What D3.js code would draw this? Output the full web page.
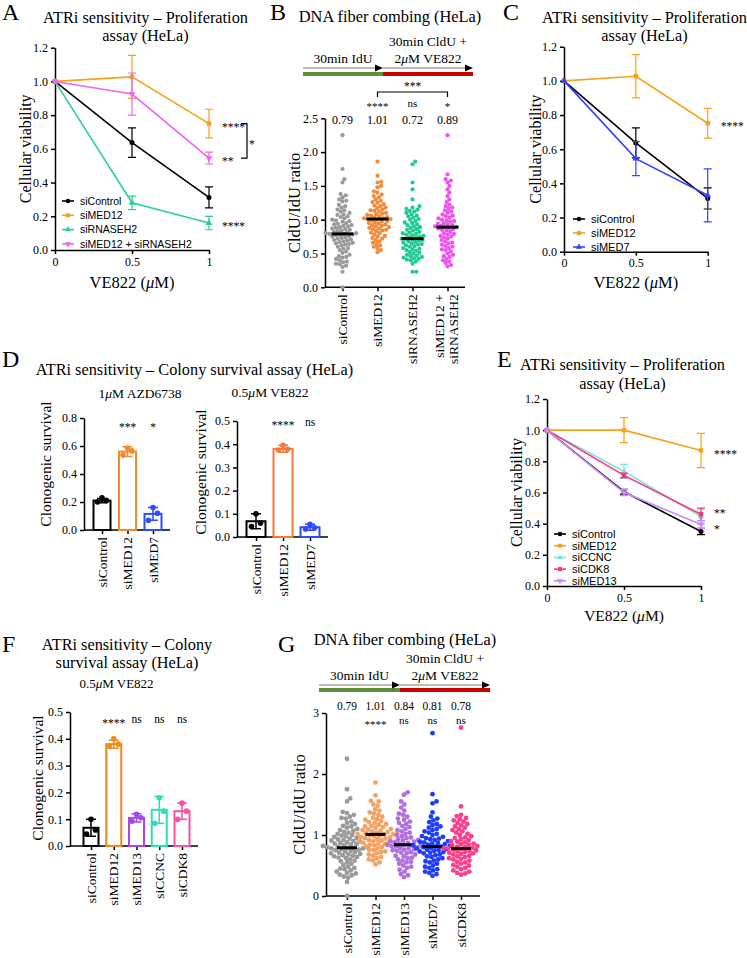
<!DOCTYPE html>
<html><head><meta charset="utf-8">
<script src="https://cdn.jsdelivr.net/npm/d3@7"></script>
<style>body{margin:0;background:#fff;}</style>
</head><body>
<svg id="fig" width="747" height="958" xmlns="http://www.w3.org/2000/svg"></svg>
<script>
// ---------------- DATA ----------------
const doses = [0, 0.5, 1];
const doseTicks = [0, 0.5, 1];
const viabTicks = [0, 0.2, 0.4, 0.6, 0.8, 1.0, 1.2];

// Panel A
const A_series = ["siControl", "siMED12", "siRNASEH2", "siMED12 + siRNASEH2"];
const A_mean = [[1, 0.637, 0.312], [1, 1.027, 0.75], [1, 0.28, 0.16], [1, 0.925, 0.545]];
const A_sd = [[0, 0.088, 0.062], [0, 0.127, 0.085], [0, 0.04, 0.04], [0, 0.125, 0.035]];
const A_colors = ["#000000", "#F9A11B", "#2ED28E", "#EE66EE"];
const A_shapes = ["circle", "square", "triangle", "triangleDown"];
const A_sig = ["", "****", "****", "**"];

// Panel C
const C_series = ["siControl", "siMED12", "siMED7"];
const C_mean = [[1, 0.637, 0.312], [1, 1.027, 0.752], [1, 0.545, 0.33]];
const C_sd = [[0, 0.088, 0.062], [0, 0.127, 0.087], [0, 0.10, 0.155]];
const C_colors = ["#000000", "#F9A11B", "#3344FF"];
const C_shapes = ["circle", "square", "triangle"];
const C_sig = ["", "****", ""];

// Panel E
const E_series = ["siControl", "siMED12", "siCCNC", "siCDK8", "siMED13"];
const E_mean = [[1, 0.605, 0.35], [1, 1.0, 0.87], [1, 0.735, 0.445], [1, 0.71, 0.46], [1, 0.60, 0.395]];
const E_sd = [[0, 0.015, 0.02], [0, 0.08, 0.11], [0, 0.045, 0.05], [0, 0.015, 0.04], [0, 0.02, 0.025]];
const E_colors = ["#000000", "#F9A11B", "#7FE3E3", "#FF3377", "#CC88FF"];
const E_shapes = ["circle", "square", "triangle", "square", "triangleDown"];
const E_sig = ["", "****", "", "**", "*"];

// DNA fiber ratios
const fiber_siControl = [2.25,1.75,1.60,1.55,1.38,1.36,1.33,1.30,1.28,1.27,1.22,1.20,1.18,1.15,1.14,1.12,1.10,1.08,1.07,1.05,1.04,1.02,1.00,0.99,0.98,0.97,0.95,0.94,0.93,0.92,0.91,0.90,0.89,0.88,0.87,0.86,0.85,0.84,0.83,0.82,0.81,0.80,0.80,0.79,0.79,0.78,0.78,0.77,0.76,0.75,0.74,0.73,0.72,0.71,0.70,0.69,0.68,0.67,0.66,0.65,0.64,0.63,0.62,0.60,0.58,0.57,0.55,0.53,0.51,0.48,0.46,0.45,0.44,0.42,0.40,0.38,0.37,0.35,0.34,0.32,0.30,0.23,0.00];
const fiber_siMED12 = [1.86,1.65,1.56,1.55,1.50,1.48,1.42,1.40,1.37,1.35,1.33,1.30,1.28,1.26,1.25,1.23,1.21,1.20,1.18,1.17,1.15,1.14,1.13,1.12,1.10,1.09,1.08,1.07,1.06,1.05,1.04,1.03,1.02,1.02,1.01,1.01,1.00,0.99,0.98,0.97,0.96,0.95,0.94,0.93,0.92,0.91,0.90,0.89,0.88,0.87,0.86,0.85,0.84,0.83,0.81,0.80,0.78,0.76,0.75,0.73,0.72,0.70,0.68,0.66,0.64,0.62,0.60,0.58,0.55,0.52];
const fiber_siRNASEH2 = [1.86,1.82,1.55,1.45,1.30,1.20,1.18,1.16,1.15,1.13,1.12,1.10,1.08,1.06,1.05,1.03,1.01,1.00,0.98,0.96,0.95,0.93,0.92,0.90,0.89,0.88,0.86,0.85,0.84,0.82,0.81,0.80,0.79,0.78,0.77,0.76,0.75,0.74,0.73,0.72,0.72,0.71,0.70,0.69,0.68,0.67,0.66,0.65,0.64,0.63,0.62,0.61,0.60,0.58,0.57,0.56,0.55,0.54,0.52,0.51,0.50,0.48,0.47,0.46,0.45,0.44,0.43,0.42,0.41,0.40,0.38,0.35,0.23,0.23];
const fiber_combo = [2.25,1.67,1.60,1.58,1.55,1.50,1.45,1.40,1.35,1.30,1.26,1.22,1.20,1.18,1.16,1.14,1.12,1.10,1.08,1.06,1.05,1.03,1.02,1.00,0.99,0.98,0.97,0.95,0.94,0.93,0.92,0.91,0.90,0.89,0.89,0.88,0.87,0.86,0.85,0.84,0.82,0.80,0.79,0.78,0.76,0.75,0.74,0.72,0.70,0.68,0.66,0.65,0.63,0.61,0.60,0.58,0.56,0.55,0.53,0.50,0.48,0.46,0.45,0.42,0.40,0.38,0.36,0.33,0.31];
const fiber_siMED13 = [1.70,1.66,1.55,1.50,1.45,1.40,1.35,1.33,1.30,1.27,1.25,1.22,1.20,1.18,1.15,1.13,1.10,1.08,1.06,1.04,1.02,1.00,0.98,0.96,0.95,0.93,0.92,0.91,0.90,0.89,0.88,0.87,0.86,0.85,0.84,0.84,0.83,0.82,0.81,0.80,0.79,0.78,0.77,0.76,0.75,0.74,0.72,0.71,0.70,0.68,0.66,0.65,0.63,0.62,0.60,0.58,0.56,0.55,0.53,0.50,0.48,0.46,0.43,0.40,0.36,0.34,0.31];
const fiber_siMED7 = [2.67,1.67,1.55,1.52,1.37,1.30,1.27,1.24,1.21,1.18,1.16,1.14,1.12,1.10,1.08,1.06,1.04,1.02,1.00,0.98,0.97,0.95,0.94,0.93,0.92,0.90,0.89,0.88,0.87,0.86,0.85,0.84,0.83,0.82,0.81,0.81,0.80,0.79,0.78,0.77,0.76,0.75,0.74,0.73,0.72,0.71,0.70,0.68,0.67,0.65,0.64,0.62,0.60,0.58,0.57,0.55,0.53,0.50,0.48,0.46,0.44,0.42,0.40,0.38,0.36,0.33];
const fiber_siCDK8 = [2.76,1.47,1.33,1.31,1.28,1.26,1.24,1.22,1.20,1.18,1.16,1.14,1.12,1.10,1.08,1.06,1.04,1.02,1.00,0.98,0.96,0.95,0.93,0.92,0.90,0.89,0.88,0.86,0.85,0.84,0.83,0.82,0.81,0.80,0.79,0.78,0.78,0.77,0.76,0.75,0.74,0.73,0.72,0.71,0.70,0.69,0.68,0.66,0.65,0.64,0.62,0.61,0.60,0.58,0.56,0.55,0.53,0.51,0.50,0.48,0.46,0.44,0.42,0.40,0.38,0.37,0.35];

// Panel B
const B_cats = ["siControl", "siMED12", "siRNASEH2", "siMED12 +|siRNASEH2"];
const B_values = [fiber_siControl, fiber_siMED12, fiber_siRNASEH2, fiber_combo];
const B_medians = ["0.79", "1.01", "0.72", "0.89"];
const B_medianVals = [0.79, 1.01, 0.72, 0.89];
const B_sig = ["", "****", "ns", "*"];
const B_colors = ["#9A9A9A", "#F28A3A", "#1ECC92", "#F050F0"];
const B_yticks = [0, 0.5, 1.0, 1.5, 2.0, 2.5];

// Panel G
const G_cats = ["siControl", "siMED12", "siMED13", "siMED7", "siCDK8"];
const G_values = [fiber_siControl, fiber_siMED12, fiber_siMED13, fiber_siMED7, fiber_siCDK8];
const G_medians = ["0.79", "1.01", "0.84", "0.81", "0.78"];
const G_medianVals = [0.79, 1.01, 0.84, 0.81, 0.78];
const G_sig = ["", "****", "ns", "ns", "ns"];
const G_colors = ["#9A9A9A", "#F4A262", "#B06FE0", "#1F3BFF", "#FF3D8B"];
const G_yticks = [0, 1, 2, 3];

// Panel D (left: 1uM AZD6738)
const D1_cats = ["siControl", "siMED12", "siMED7"];
const D1_mean = [0.21, 0.56, 0.115];
const D1_sd = [0.015, 0.035, 0.045];
const D1_pts = [[0.23, 0.20, 0.21], [0.585, 0.535, 0.565], [0.16, 0.07, 0.12]];
const D1_sig = ["", "***", "*"];
const D1_colors = ["#000000", "#F28C28", "#2E4BFF"];
const D1_yticks = [0, 0.2, 0.4, 0.6, 0.8];
// Panel D (right: 0.5uM VE822)
const D2_cats = ["siControl", "siMED12", "siMED7"];
const D2_mean = [0.068, 0.38, 0.042];
const D2_sd = [0.032, 0.015, 0.013];
const D2_pts = [[0.10, 0.045, 0.06], [0.395, 0.375, 0.378], [0.055, 0.035, 0.04]];
const D2_sig = ["", "****", "ns"];
const D2_colors = ["#000000", "#F5793A", "#2E4BFF"];
const D2_yticks = [0, 0.1, 0.2, 0.3, 0.4, 0.5];
// Panel F
const F_cats = ["siControl", "siMED12", "siMED13", "siCCNC", "siCDK8"];
const F_mean = [0.068, 0.38, 0.105, 0.135, 0.13];
const F_sd = [0.032, 0.015, 0.015, 0.05, 0.03];
const F_pts = [[0.10, 0.045, 0.06], [0.40, 0.372, 0.38], [0.118, 0.092, 0.105], [0.18, 0.085, 0.13], [0.16, 0.10, 0.13]];
const F_sig = ["", "****", "ns", "ns", "ns"];
const F_colors = ["#000000", "#EE8A1E", "#A648E8", "#2BE0B5", "#FF4FA3"];
const F_yticks = [0, 0.1, 0.2, 0.3, 0.4, 0.5];

// ---------------- HELPERS ----------------
const SERIF = '"Liberation Serif","Times New Roman",Times,serif';
const SANS = '"Liberation Sans",Arial,Helvetica,sans-serif';
const svg = d3.select("#fig");

function txt(g, x, y, s, o = {}) {
  const t = g.append("text").attr("x", x).attr("y", y)
    .attr("font-size", o.size || 14).attr("text-anchor", o.anchor || "middle")
    .attr("font-family", o.family || SERIF).attr("fill", o.fill || "#000");
  if (o.dy) t.attr("dy", o.dy);
  if (o.rotate) t.attr("transform", `rotate(${o.rotate},${x},${y})`);
  if (o.weight) t.attr("font-weight", o.weight);
  const parts = s.split("μ");
  parts.forEach((p, i) => {
    if (i > 0) t.append("tspan").attr("font-style", "italic").text("μ");
    if (p) t.append("tspan").text(p);
  });
  return t;
}
function styleAxis(sel, size = 12) {
  sel.select(".domain").attr("stroke", "#000").attr("stroke-width", 1.5);
  sel.selectAll(".tick line").attr("stroke", "#000").attr("stroke-width", 1.5);
  sel.selectAll(".tick text").attr("font-family", SERIF).attr("font-size", size).attr("fill", "#000");
}
function marker(g, x, y, shape, color, size) {
  let type = d3.symbolCircle, rot = 0;
  if (shape === "square") type = d3.symbolSquare;
  if (shape === "triangle") type = d3.symbolTriangle;
  if (shape === "triangleDown") { type = d3.symbolTriangle; rot = 180; }
  g.append("path").attr("d", d3.symbol().type(type).size(size)())
    .attr("transform", `translate(${x},${y}) rotate(${rot})`).attr("fill", color);
}

function lineChart(c) {
  const x = d3.scaleLinear().domain([0, 1]).range(c.xr);
  const y = d3.scaleLinear().domain([0, 1.2]).range(c.yr);
  const g = svg.append("g");
  const xa = g.append("g").attr("transform", `translate(0,${c.yr[0]})`)
    .call(d3.axisBottom(x).tickValues(doseTicks).tickFormat(d => d === 0.5 ? "0.5" : String(d)).tickSize(4).tickSizeOuter(0));
  styleAxis(xa);
  const ya = g.append("g").attr("transform", `translate(${c.xr[0]},0)`)
    .call(d3.axisLeft(y).tickValues(viabTicks).tickFormat(d3.format(".1f")).tickSize(4).tickSizeOuter(0));
  styleAxis(ya);
  c.series.forEach((name, i) => {
    const pts = doses.map((d, j) => ({ d, m: c.mean[i][j], e: c.sd[i][j] }));
    g.append("path").datum(pts).attr("fill", "none").attr("stroke", c.colors[i]).attr("stroke-width", 1.6)
      .attr("d", d3.line().x(p => x(p.d)).y(p => y(p.m)));
    pts.forEach(p => {
      if (p.e > 0) {
        const px = x(p.d), y1 = y(p.m + p.e), y2 = y(p.m - p.e);
        g.append("path").attr("d", `M${px},${y1}V${y2}M${px - 4},${y1}H${px + 4}M${px - 4},${y2}H${px + 4}`)
          .attr("stroke", c.colors[i]).attr("stroke-width", 1.2).attr("fill", "none");
      }
      marker(g, x(p.d), y(p.m), c.shapes[i], c.colors[i], 20);
    });
    if (c.sig[i]) txt(g, x(1) + 13, y(c.mean[i][2]) + (c.sigDy ? c.sigDy[i] : 0), c.sig[i], { anchor: "start", size: 11.5, dy: "0.62em" });
  });
  c.series.forEach((name, i) => {
    const ly = c.leg.y0 + i * c.leg.dy;
    g.append("line").attr("x1", c.leg.x).attr("x2", c.leg.x + 12).attr("y1", ly).attr("y2", ly)
      .attr("stroke", c.colors[i]).attr("stroke-width", 1.6);
    marker(g, c.leg.x + 6, ly, c.shapes[i], c.colors[i], 16);
    txt(g, c.leg.x + 18, ly, name, { anchor: "start", family: SANS, size: c.leg.size, dy: "0.35em" });
  });
  txt(g, (c.xr[0] + c.xr[1]) / 2, c.xlabY, "VE822 (μM)", { size: c.xlabSize || 16.5 });
  txt(g, c.ylabX, (c.yr[0] + c.yr[1]) / 2, "Cellular viability", { size: 16, rotate: -90 });
  return { g, x, y };
}

function beeswarm(vals, y, r) {
  const d = 2 * r * 0.92;
  const pts = vals.map(v => ({ v, y: y(v), x: 0 })).sort((a, b) => b.y - a.y);
  const placed = [];
  pts.forEach(p => {
    const near = placed.filter(q => Math.abs(q.y - p.y) < d);
    const cands = [0];
    near.forEach(q => { const dx = Math.sqrt(d * d - (q.y - p.y) ** 2); cands.push(q.x + dx, q.x - dx); });
    cands.sort((a, b) => Math.abs(a) - Math.abs(b));
    for (const cx of cands) {
      if (near.every(q => (q.x - cx) ** 2 + (q.y - p.y) ** 2 >= d * d - 0.01)) { p.x = cx; break; }
    }
    placed.push(p);
  });
  return placed;
}

function rotLabel(g, cx, y0, label, size) {
  const lines = label.split("|");
  const off = lines.length === 1 ? [0] : [-8, 6];
  lines.forEach((ln, k) => {
    g.append("text").attr("transform", `translate(${cx + off[k]},${y0 + 7}) rotate(-90)`)
      .attr("text-anchor", "end").attr("dy", "0.35em").attr("font-family", SERIF)
      .attr("font-size", size).text(ln);
  });
}

function scatterPanel(c) {
  const g = svg.append("g");
  const y = d3.scaleLinear().domain(c.ydom).range(c.yr);
  const x = d3.scalePoint().domain(c.cats).range(c.xr);
  const ya = g.append("g").attr("transform", `translate(${c.axisX},0)`)
    .call(d3.axisLeft(y).tickValues(c.yticks).tickFormat(c.fmt).tickSize(4).tickSizeOuter(0));
  styleAxis(ya);
  const xa = g.append("g").attr("transform", `translate(0,${c.yr[0]})`)
    .call(d3.axisBottom(x).tickSize(4).tickFormat(""));
  styleAxis(xa);
  xa.select(".domain").attr("d", `M${c.axisX},0H${c.xEnd}`);
  c.cats.forEach((cat, i) => {
    const cx = x(cat);
    beeswarm(c.values[i], y, c.r).forEach(p => {
      g.append("circle").attr("cx", cx + p.x).attr("cy", p.y).attr("r", c.r).attr("fill", c.colors[i]);
    });
    g.append("line").attr("x1", cx - c.medW / 2).attr("x2", cx + c.medW / 2)
      .attr("y1", y(c.medVals[i])).attr("y2", y(c.medVals[i])).attr("stroke", "#000").attr("stroke-width", 3);
    txt(g, cx, c.medY, c.medians[i], { size: c.medSize || 12 });
    if (c.sig[i]) txt(g, cx, c.sig[i] === "ns" ? c.nsY : c.sigY, c.sig[i], { size: 11 });
    rotLabel(g, cx, c.yr[0], cat, 13.5);
  });
  txt(g, c.ylabX, (c.yr[0] + c.yr[1]) / 2, "CldU/IdU ratio", { size: 16.5, rotate: -90 });
  return { g, x, y };
}

function schematic(s) {
  const g = svg.append("g");
  g.append("rect").attr("x", s.x0).attr("y", s.barY).attr("width", s.xm - s.x0).attr("height", 4).attr("fill", "#5E8F3A");
  g.append("rect").attr("x", s.xm).attr("y", s.barY).attr("width", s.x1 - s.xm).attr("height", 4).attr("fill", "#CC0000");
  [[s.x0, s.xm], [s.xm, s.x1]].forEach(([a, b]) => {
    g.append("line").attr("x1", a).attr("x2", b - 7).attr("y1", s.lineY).attr("y2", s.lineY).attr("stroke", "#777").attr("stroke-width", 1);
    g.append("path").attr("d", `M${b},${s.lineY}L${b - 8},${s.lineY - 3.5}L${b - 8},${s.lineY + 3.5}Z`).attr("fill", "#000");
  });
  txt(g, (s.x0 + s.xm) / 2, s.lineY - 5, "30min IdU", { size: 13.5 });
  txt(g, (s.xm + s.x1) / 2, s.lineY - 22, "30min CldU +", { size: 13.5 });
  txt(g, (s.xm + s.x1) / 2, s.lineY - 5, "2μM VE822", { size: 13.5 });
}

function barPanel(c) {
  const g = svg.append("g");
  const y = d3.scaleLinear().domain([0, c.ymax]).range(c.yr);
  const x = d3.scalePoint().domain(c.cats).range(c.xr);
  const ya = g.append("g").attr("transform", `translate(${c.axisX},0)`)
    .call(d3.axisLeft(y).tickValues(c.yticks).tickFormat(d3.format(".1f")).tickSize(4).tickSizeOuter(0));
  styleAxis(ya);
  const xa = g.append("g").attr("transform", `translate(0,${c.yr[0]})`)
    .call(d3.axisBottom(x).tickSize(4).tickFormat(""));
  styleAxis(xa);
  xa.select(".domain").attr("d", `M${c.axisX},0H${c.xEnd}`);
  const offs = [0, -4.5, 4.5];
  c.cats.forEach((cat, i) => {
    const cx = x(cat), col = c.colors[i];
    g.append("rect").attr("x", cx - c.bw / 2).attr("y", y(c.mean[i])).attr("width", c.bw)
      .attr("height", y(0) - y(c.mean[i])).attr("fill", "#fff").attr("stroke", col).attr("stroke-width", 2);
    const y1 = y(c.mean[i] + c.sd[i]), y2 = y(c.mean[i] - c.sd[i]);
    g.append("path").attr("d", `M${cx},${y1}V${y2}M${cx - 5},${y1}H${cx + 5}M${cx - 5},${y2}H${cx + 5}`)
      .attr("stroke", col).attr("stroke-width", 1.5).attr("fill", "none");
    c.pts[i].forEach((v, k) => g.append("circle").attr("cx", cx + offs[k]).attr("cy", y(v)).attr("r", 2.8).attr("fill", col));
    if (c.sig[i]) txt(g, cx, c.sig[i] === "ns" ? c.nsY : c.sigY, c.sig[i], { size: 11.5 });
    rotLabel(g, cx, c.yr[0], cat, 13.5);
  });
  txt(g, c.ylabX, c.ylabCY, "Clonogenic survival", { size: 15.5, rotate: -90 });
}

// ---------------- PANELS ----------------
[["A", 2, 20], ["B", 270, 20], ["C", 503, 20], ["D", 2, 367], ["E", 497, 367], ["F", 2, 652], ["G", 278, 652]]
  .forEach(([l, x, y]) => txt(svg, x, y, l, { anchor: "start", size: 24 }));

// A
txt(svg, 145.5, 23, "ATRi sensitivity – Proliferation", { size: 16.3 });
txt(svg, 145.5, 41, "assay (HeLa)", { size: 16.3 });
const pA = lineChart({ xr: [55, 209], yr: [250, 47.7], series: A_series, mean: A_mean, sd: A_sd, colors: A_colors,
  shapes: A_shapes, sig: A_sig, leg: { x: 62, y0: 201, dy: 14.3, size: 10.5 }, xlabY: 288, ylabX: 31 });
{
  const yt = pA.y(0.75), yb = pA.y(0.545);
  svg.append("path").attr("d", `M241,${yt}H247V${yb}H241`).attr("fill", "none").attr("stroke", "#000").attr("stroke-width", 1.2);
  txt(svg, 249, (yt + yb) / 2, "*", { anchor: "start", size: 11.5, dy: "0.62em" });
}

// B
txt(svg, 390, 22, "DNA fiber combing (HeLa)", { size: 16.4 });
schematic({ x0: 303, xm: 383, x1: 473, lineY: 68, barY: 72 });
const pB = scatterPanel({ cats: B_cats, values: B_values, colors: B_colors, medians: B_medians, medVals: B_medianVals,
  sig: B_sig, ydom: [0, 2.5], yr: [287.3, 118.3], xr: [342.5, 447.5], axisX: 325, xEnd: 465, yticks: B_yticks,
  fmt: d3.format(".1f"), r: 2.1, medW: 22, medY: 124, sigY: 109.5, nsY: 107, ylabX: 300 });
{
  const xl = pB.x(B_cats[1]), xr = pB.x(B_cats[3]);
  svg.append("path").attr("d", `M${xl},97V92H${xr}V97`).attr("fill", "none").attr("stroke", "#000").attr("stroke-width", 1.2);
  txt(svg, (xl + xr) / 2, 90, "***", { size: 11.5 });
}

// C
txt(svg, 644.5, 23, "ATRi sensitivity – Proliferation", { size: 16.3 });
txt(svg, 644.5, 41, "assay (HeLa)", { size: 16.3 });
lineChart({ xr: [564, 707.7], yr: [251.7, 46.7], series: C_series, mean: C_mean, sd: C_sd, colors: C_colors,
  shapes: C_shapes, sig: C_sig, leg: { x: 573, y0: 219, dy: 14, size: 11 }, xlabY: 288, ylabX: 541 });

// D
txt(svg, 194.5, 375, "ATRi sensitivity – Colony survival assay (HeLa)", { size: 16.3 });
txt(svg, 140, 398, "1μM AZD6738", { size: 13.5 });
txt(svg, 270, 397, "0.5μM VE822", { size: 13.5 });
barPanel({ cats: D1_cats, mean: D1_mean, sd: D1_sd, pts: D1_pts, sig: D1_sig, colors: D1_colors, yticks: D1_yticks,
  ymax: 0.8, yr: [530, 418], xr: [102, 153], axisX: 84, xEnd: 170, bw: 17, sigY: 431, nsY: 428, ylabX: 51, ylabCY: 464 });
barPanel({ cats: D2_cats, mean: D2_mean, sd: D2_sd, pts: D2_pts, sig: D2_sig, colors: D2_colors, yticks: D2_yticks,
  ymax: 0.5, yr: [537, 421], xr: [256, 310], axisX: 237, xEnd: 328, bw: 19, sigY: 429, nsY: 426, ylabX: 206, ylabCY: 472 });

// E
txt(svg, 622.5, 370, "ATRi sensitivity – Proliferation", { size: 16.3 });
txt(svg, 622.5, 389, "assay (HeLa)", { size: 16.3 });
lineChart({ xr: [547, 701], yr: [586, 399], series: E_series, mean: E_mean, sd: E_sd, colors: E_colors,
  shapes: E_shapes, sig: E_sig, sigDy: [0, 0, 0, -4, 1], leg: { x: 554, y0: 534, dy: 11.7, size: 11 }, xlabY: 621, xlabSize: 15.5, ylabX: 522 });

// F
txt(svg, 127, 650, "ATRi sensitivity – Colony", { size: 16.3 });
txt(svg, 127, 668, "survival assay (HeLa)", { size: 16.3 });
txt(svg, 116.5, 688, "0.5μM VE822", { size: 13 });
barPanel({ cats: F_cats, mean: F_mean, sd: F_sd, pts: F_pts, sig: F_sig, colors: F_colors, yticks: F_yticks,
  ymax: 0.5, yr: [846, 712], xr: [91, 182], axisX: 70, xEnd: 198, bw: 15, sigY: 727, nsY: 723, ylabX: 43, ylabCY: 778 });

// G
txt(svg, 405, 645, "DNA fiber combing (HeLa)", { size: 16.4 });
schematic({ x0: 319, xm: 400, x1: 490, lineY: 685, barY: 688 });
scatterPanel({ cats: G_cats, values: G_values, colors: G_colors, medians: G_medians, medVals: G_medianVals,
  sig: G_sig, ydom: [0, 3], yr: [896, 713], xr: [347, 461], axisX: 326, xEnd: 480, yticks: G_yticks,
  fmt: d3.format("d"), r: 2.4, medW: 20, medY: 710, medSize: 11.5, sigY: 728, nsY: 724, ylabX: 305 });
</script>
</body></html>
